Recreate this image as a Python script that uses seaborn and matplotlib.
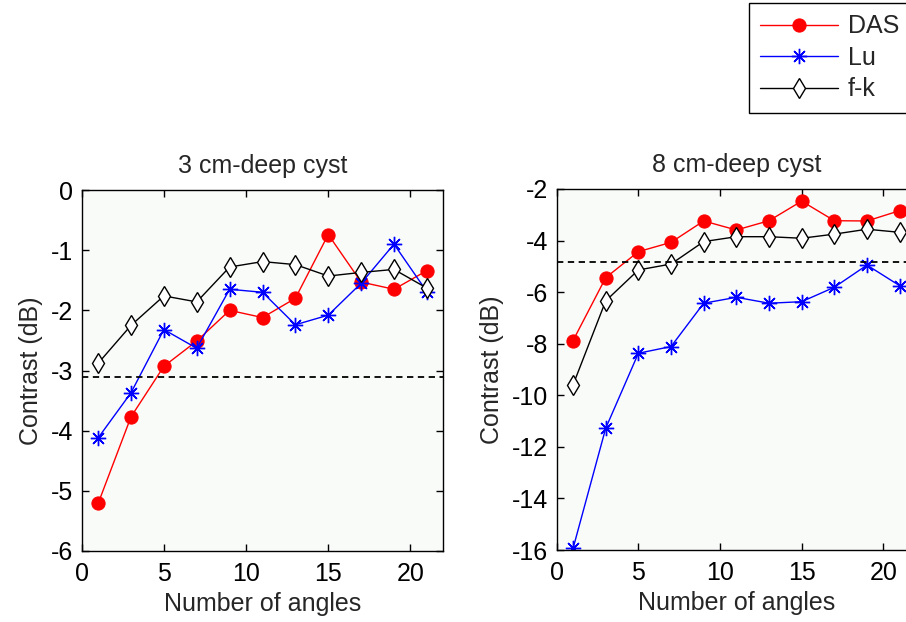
import numpy as np
import pandas as pd
import matplotlib
matplotlib.use("Agg")
import matplotlib.pyplot as plt
import seaborn as sns

angles = [1, 3, 5, 7, 9, 11, 13, 15, 17, 19, 21]

das_3cm = [-5.21, -3.77, -2.93, -2.51, -2.00, -2.12, -1.80, -0.74, -1.53, -1.65, -1.34]
lu_3cm = [-4.12, -3.37, -2.32, -2.63, -1.65, -1.70, -2.24, -2.08, -1.55, -0.90, -1.69]
fk_3cm = [-2.88, -2.25, -1.76, -1.86, -1.28, -1.19, -1.24, -1.43, -1.37, -1.32, -1.63]
ref_3cm = -3.1

das_8cm = [-7.88, -5.44, -4.43, -4.07, -3.24, -3.59, -3.23, -2.47, -3.23, -3.24, -2.84]
lu_8cm = [-15.94, -11.28, -8.37, -8.11, -6.43, -6.20, -6.43, -6.37, -5.81, -4.95, -5.75]
fk_8cm = [-9.60, -6.34, -5.14, -4.91, -4.04, -3.85, -3.85, -3.91, -3.75, -3.56, -3.68]
ref_8cm = -4.85

methods = ["DAS", "Lu", "f-k"]
titles = ["3 cm-deep cyst", "8 cm-deep cyst"]

sns.set_style("ticks")
plt.rcParams["font.family"] = ["Liberation Sans", "DejaVu Sans"]
plt.rcParams["font.size"] = 18

fig = plt.figure(figsize=(9.06, 6.22), dpi=100)
fig.patch.set_facecolor("white")

ax1 = fig.add_axes([81.7 / 906, 1 - 551 / 622, 361.6 / 906, 361 / 622])
ax2 = fig.add_axes([556.7 / 906, 1 - 550 / 622, 359.3 / 906, 361 / 622])

styles = {
    "DAS": dict(color="#ff0000", marker="o", markersize=9.5, markerfacecolor="#ff0000",
                markeredgecolor="#ff0000"),
    "Lu": dict(color="#0000ff", marker=(8, 2, 0), markersize=11, markeredgewidth=1.0,
               markeredgecolor="#0000ff"),
    "f-k": dict(color="black", marker="d", markersize=10, markerfacecolor="white",
                markeredgecolor="black", markeredgewidth=1.0),
}

panels = [
    (ax1, [das_3cm, lu_3cm, fk_3cm], ref_3cm, (-6, 0), np.arange(-6, 0.1, 1)),
    (ax2, [das_8cm, lu_8cm, fk_8cm], ref_8cm, (-16, -2), np.arange(-16, -1.9, 2)),
]

handles = None
for (ax, series, ref, ylim, yticks), title in zip(panels, titles):
    df = pd.DataFrame({
        "angles": angles * 3,
        "contrast": series[0] + series[1] + series[2],
        "method": sum([[m] * len(angles) for m in methods], []),
    })
    for m in methods:
        sub = df[df["method"] == m]
        sns.lineplot(data=sub, x="angles", y="contrast", ax=ax, linewidth=1.0,
                     label=m, legend=False, **styles[m])
    ax.axhline(ref, color="black", linestyle=(0, (3.5, 2.5)), linewidth=1.3)
    ax.set_xlim(0, 22)
    ax.set_ylim(*ylim)
    ax.set_xticks([0, 5, 10, 15, 20])
    ax.set_yticks(yticks)
    ax.set_yticklabels([f"{int(v)}" for v in yticks])
    ax.set_facecolor("#f9fbf9")
    for s in ax.spines.values():
        s.set_visible(True)
        s.set_color("black")
        s.set_linewidth(1.0)
    ax.tick_params(direction="in", length=5, width=1.0, top=True, right=True,
                   labelsize=18, pad=6, colors="black")
    ax.tick_params(axis="x", pad=8)
    ax.set_xlabel("Number of angles", fontsize=18, labelpad=4)
    ax.set_ylabel("Contrast (dB)", fontsize=18, labelpad=6)
    ax.set_title(title, fontsize=18, pad=12)
    handles = ax.get_lines()[:3]

leg = fig.legend(handles, methods, loc="upper left",
                 bbox_to_anchor=(749 / 906, 1 - 3 / 622), fontsize=18,
                 frameon=True, fancybox=False, handlelength=3.1, handletextpad=0.4,
                 labelspacing=0.3, borderpad=0.45, borderaxespad=0)
leg.get_frame().set_edgecolor("black")
leg.get_frame().set_linewidth(1.0)
leg.get_frame().set_facecolor("white")
leg.get_frame().set_alpha(1)

fig.savefig("out.png", dpi=100)
